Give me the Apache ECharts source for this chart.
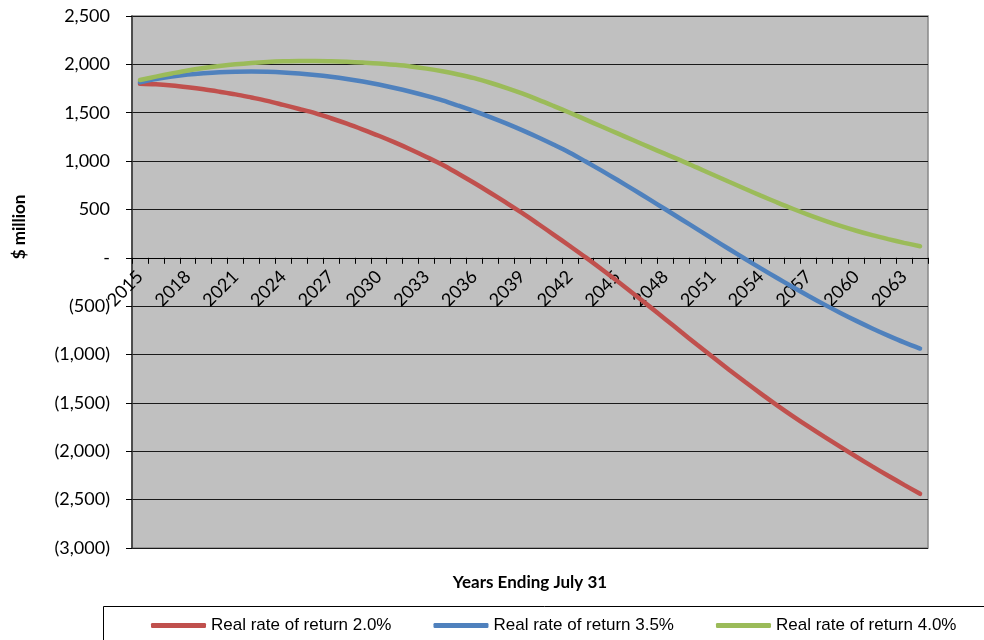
<!DOCTYPE html>
<html>
<head>
<meta charset="utf-8">
<script src="https://cdn.jsdelivr.net/npm/echarts@6/dist/echarts.min.js"></script>
<style>
  html, body { margin: 0; padding: 0; background: #fff; }
  #chart { width: 984px; height: 640px; }
</style>
</head>
<body>
<div id="chart"></div>
<script>
// Fiscal years ending July 31
const years = [];
for (let y = 2015; y <= 2064; y++) years.push(String(y));

// Projected balances, $ million, under three real-return assumptions
const rate20 = [1800, 1794, 1781, 1763, 1742, 1717, 1690, 1657, 1622, 1581,
                1539, 1495, 1443, 1387, 1326, 1262, 1193, 1120, 1043, 962,
                869, 773, 673, 570, 464, 352, 238, 122, 4, -118,
                -243, -371, -502, -634, -767, -899, -1029, -1157, -1282, -1404,
                -1522, -1636, -1746, -1852, -1955, -2057, -2156, -2253, -2347, -2440];
const rate35 = [1815, 1848, 1874, 1894, 1908, 1918, 1923, 1925, 1923, 1917,
                1906, 1891, 1872, 1849, 1822, 1791, 1756, 1717, 1674, 1627,
                1573, 1516, 1455, 1390, 1320, 1246, 1168, 1086, 995, 901,
                804, 705, 604, 502, 399, 296, 193, 91, -10, -109,
                -206, -301, -394, -484, -570, -652, -730, -804, -874, -938];
const rate40 = [1838, 1873, 1906, 1937, 1962, 1983, 2001, 2015, 2025, 2031,
                2034, 2034, 2031, 2026, 2019, 2010, 1996, 1979, 1956, 1928,
                1895, 1857, 1810, 1757, 1699, 1636, 1569, 1500, 1429, 1357,
                1286, 1215, 1144, 1074, 1005, 932, 859, 786, 714, 643,
                574, 507, 444, 385, 330, 280, 234, 193, 155, 120];

const seriesNames = ['Real rate of return 2.0%', 'Real rate of return 3.5%', 'Real rate of return 4.0%'];
const seriesColors = ['#c0504d', '#4f81bd', '#9bbb59'];

const yMin = -3000, yMax = 2500, yStep = 500;

// plot box
const gridTop = 16, gridBottom = 92, chartH = 640;
const plotH = chartH - gridTop - gridBottom;
// distance from the bottom edge of the plot up to the zero line
const zeroLift = plotH * (0 - yMin) / (yMax - yMin);

function fmtValue(v) {
  if (v === 0) return '-';
  const s = Math.abs(v).toLocaleString('en-US');
  return v < 0 ? '(' + s + ')' : s;
}

const chart = echarts.init(document.getElementById('chart'));

function lineSeries(name, data, color) {
  return {
    name: name,
    type: 'line',
    data: data,
    smooth: 0.35,
    symbol: 'none',
    lineStyle: { color: color, width: 4.5, cap: 'round' },
    itemStyle: { color: color }
  };
}

chart.setOption({
  animation: false,
  backgroundColor: '#ffffff',
  textStyle: { fontFamily: 'Lato, sans-serif' },
  grid: {
    left: 132, top: gridTop, right: 56, bottom: gridBottom,
    show: true,
    backgroundColor: '#c0c0c0',
    borderColor: '#888888',
    borderWidth: 1.5
  },
  xAxis: {
    type: 'category',
    data: years,
    boundaryGap: true,
    position: 'bottom',
    offset: -zeroLift,
    axisLine: { onZero: false, lineStyle: { color: '#000', width: 1 } },
    axisTick: { show: true, interval: 0, length: 6, lineStyle: { color: '#000' } },
    axisLabel: {
      interval: 2,
      rotate: 45,
      margin: 16,
      color: '#000',
      fontFamily: 'Lato, sans-serif',
      fontSize: 18
    },
    splitLine: { show: false }
  },
  yAxis: {
    type: 'value',
    min: yMin,
    max: yMax,
    interval: yStep,
    axisLine: { show: true, lineStyle: { color: '#333', width: 1.5 } },
    axisTick: { show: true, length: 6, lineStyle: { color: '#000' } },
    axisLabel: {
      formatter: fmtValue,
      margin: 22,
      color: '#000',
      fontFamily: 'Lato, sans-serif',
      fontSize: 18
    },
    splitLine: { show: true, lineStyle: { color: '#1a1a1a', width: 1 } }
  },
  legend: {
    data: seriesNames,
    left: 146,
    top: 612,
    icon: 'roundRect',
    itemWidth: 55,
    itemHeight: 5,
    itemGap: 42,
    textStyle: { fontFamily: '"Liberation Sans", Arial, sans-serif', fontSize: 17, color: '#000' }
  },
  graphic: [
    {
      type: 'rect',
      shape: { x: 103.5, y: 606.5, width: 900, height: 60 },
      style: { fill: 'none', stroke: '#000', lineWidth: 1 },
      silent: true
    },
    {
      type: 'text',
      x: 530, y: 583,
      style: {
        text: 'Years Ending July 31',
        font: 'bold 17px Lato, sans-serif',
        fill: '#000',
        textAlign: 'center',
        textVerticalAlign: 'middle'
      }
    },
    {
      type: 'text',
      x: 20, y: 227,
      rotation: Math.PI / 2,
      style: {
        text: '$ million',
        font: 'bold 17px Lato, sans-serif',
        fill: '#000',
        textAlign: 'center',
        textVerticalAlign: 'middle'
      }
    }
  ],
  series: [
    lineSeries(seriesNames[0], rate20, seriesColors[0]),
    lineSeries(seriesNames[1], rate35, seriesColors[1]),
    lineSeries(seriesNames[2], rate40, seriesColors[2])
  ]
});
</script>
</body>
</html>
